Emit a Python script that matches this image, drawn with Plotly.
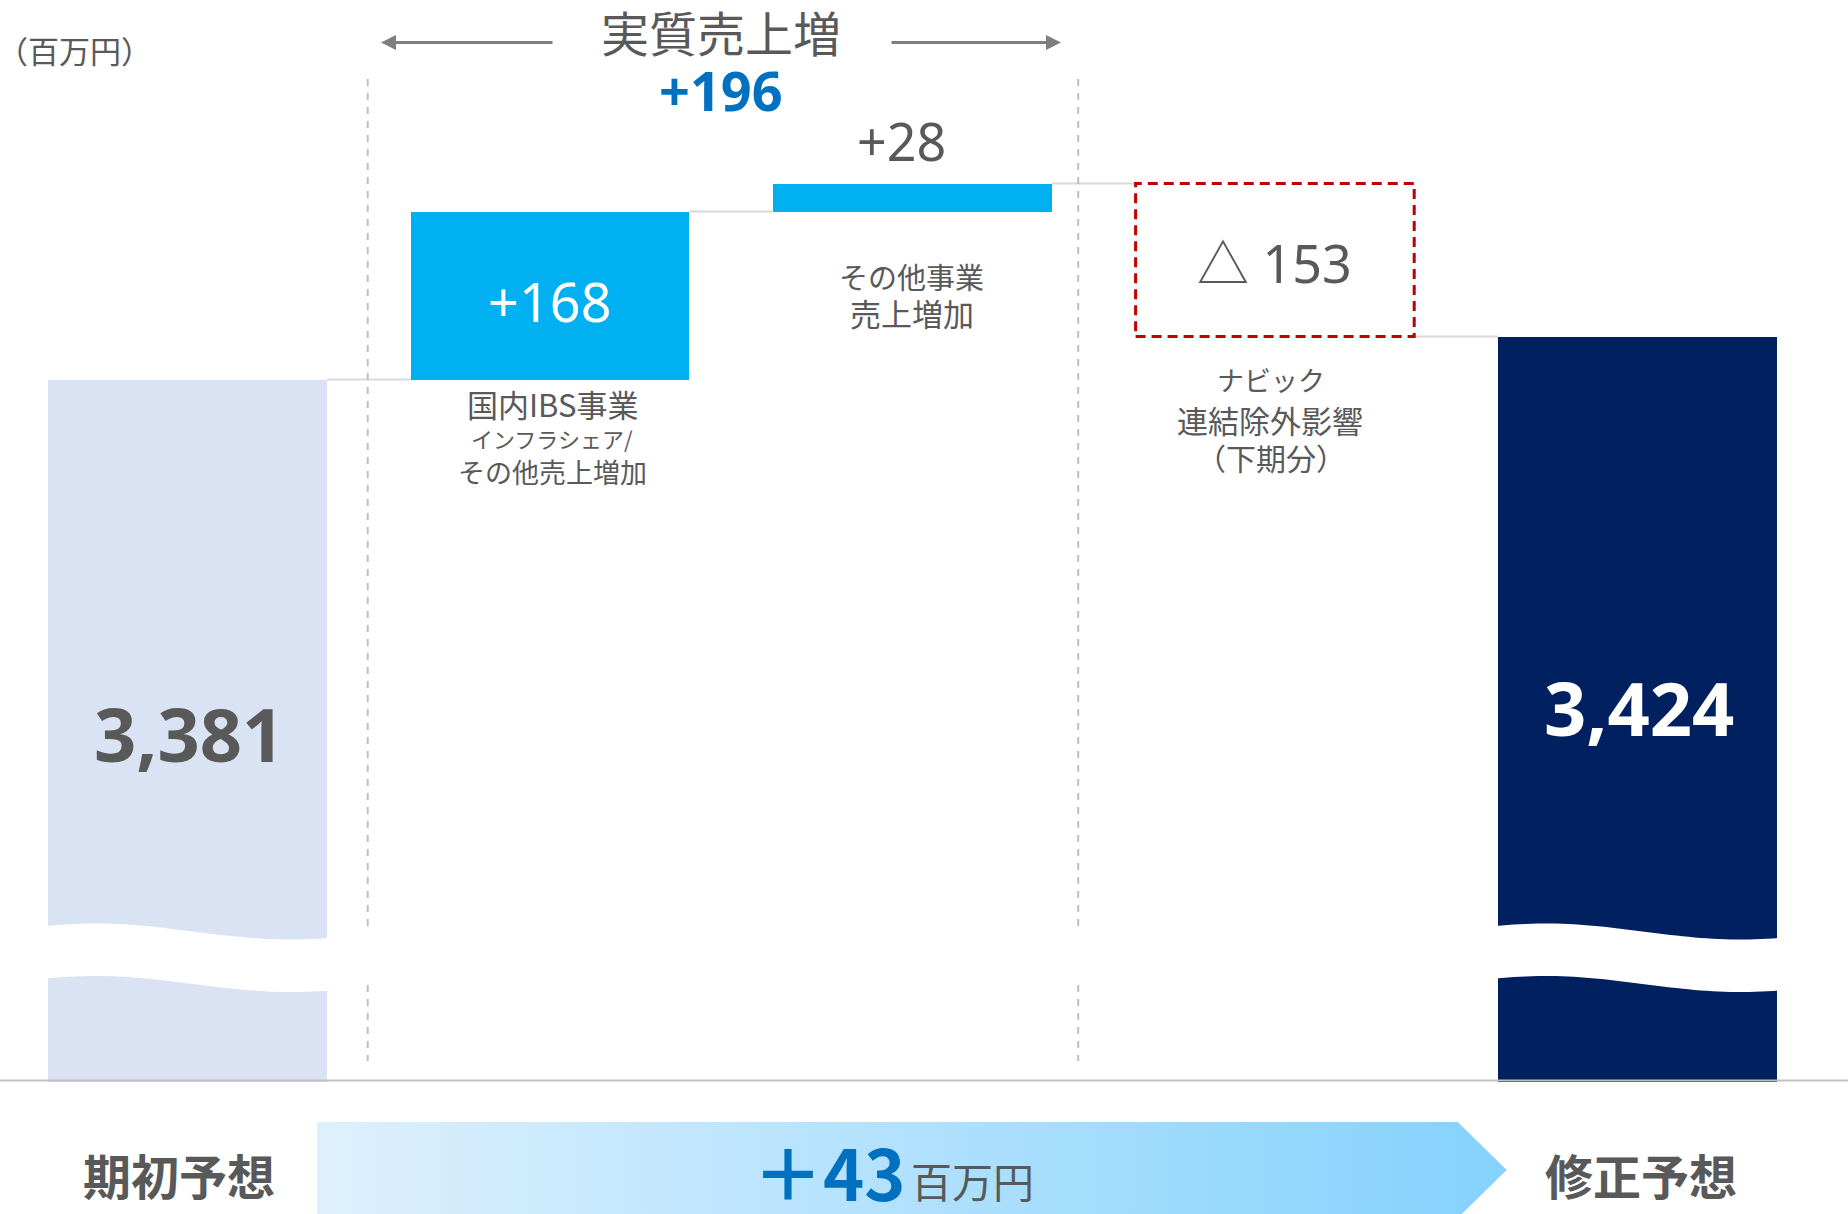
import numpy as np
import plotly.graph_objects as go

# ---------------- data ----------------
categories = ["期初予想", "国内IBS事業", "その他事業", "ナビック連結除外影響", "修正予想"]
measures = ["total", "relative", "relative", "relative", "total"]
values = [3381, 168, 28, -153, 3424]
unit_label = "（百万円）"
bracket_title = "実質売上増"
bottom_unit = "百万円"
label_lines = {
    1: [("国内IBS事業", 31), ("インフラシェア/", 22), ("その他売上増加", 27)],
    2: [("その他事業", 29), ("売上増加", 31)],
    3: [("ナビック", 27), ("連結除外影響", 31), ("（下期分）", 30)],
}

# ---------------- geometry helpers (layout only) ----------------
W_PX, H_PX = 1848, 1214
X0_PX, DX_PX = 187.7, 362.4          # pixel centre of category 0, spacing
Y_TOP_VAL = 3760.5                   # value at top edge (1 px per unit)
BAR_W = 278.6 / DX_PX
AXIS_FLOOR = 2680                    # broken-axis floor (baseline)

def fx(px):
    return (px - X0_PX) / DX_PX

def fy(py):
    return Y_TOP_VAL - py

def P(px, py):
    return px / W_PX, 1 - py / H_PX

TXT = "#595959"
BLUE = "#0070C0"
FONT = "Noto Sans, Noto Sans CJK JP, sans-serif"
CJK = "Noto Sans CJK JP, Noto Sans, sans-serif"

# ---------------- waterfall levels ----------------
xs = list(range(len(values)))
bottoms, tops, levels = [], [], []
level = 0
for m, v in zip(measures, values):
    if m == "total":
        b, t = AXIS_FLOOR - 1, v
        level = v
    else:
        new = level + v
        b, t = min(level, new), max(level, new)
        level = new
    bottoms.append(b)
    tops.append(t)
    levels.append(level)

colors = ["#DAE3F3", "#00B0F0", "#00B0F0", "rgba(0,0,0,0)", "#002060"]

fig = go.Figure()

# gradient banner (net change)
bx = [fx(317), fx(1457.7), fx(1506.7), fx(1457.7), fx(317), fx(317)]
by = [fy(1122), fy(1122), fy(1170), fy(1218), fy(1218), fy(1122)]
fig.add_trace(go.Scatter(
    x=bx, y=by, mode="lines", fill="toself", line=dict(width=0),
    fillgradient=dict(type="horizontal", colorscale=[[0, "#DEF0FD"], [1, "#84D2FD"]]),
    hoverinfo="skip", showlegend=False))

fig.add_trace(go.Bar(
    x=xs, y=[t - b for t, b in zip(tops, bottoms)], base=bottoms,
    width=BAR_W, marker=dict(color=colors, line=dict(width=0)),
    hoverinfo="skip", showlegend=False))

shapes = []
# connectors
for i in range(len(values) - 1):
    shapes.append(dict(type="line", xref="x", yref="y",
                       x0=i + BAR_W / 2, x1=i + 1 - BAR_W / 2,
                       y0=levels[i], y1=levels[i],
                       line=dict(color="#D9D9D9", width=2)))
# dashed negative box
neg = [i for i, v in enumerate(values) if v < 0 and measures[i] == "relative"]
for i in neg:
    shapes.append(dict(type="rect", xref="x", yref="y",
                       x0=i - BAR_W / 2, x1=i + BAR_W / 2,
                       y0=bottoms[i], y1=tops[i],
                       line=dict(color="#C00000", width=3, dash="10px,6px"),
                       fillcolor="rgba(0,0,0,0)"))

# wavy axis-break gaps on total bars
def wave_path(c):
    t = np.linspace(-0.03, 1.03, 50)
    xx = c - BAR_W / 2 + t * BAR_W
    top = 2829 + 8 * np.cos(np.pi * (t - 0.17) / 0.70)
    bot = top - 52.5
    pts = [f"{a:.4f},{b:.2f}" for a, b in zip(xx, top)]
    pts += [f"{a:.4f},{b:.2f}" for a, b in zip(xx[::-1], bot[::-1])]
    return "M " + " L ".join(pts) + " Z"

for i, m in enumerate(measures):
    if m == "total":
        shapes.append(dict(type="path", xref="x", yref="y", path=wave_path(i),
                           fillcolor="white", line=dict(width=0)))

# vertical dashed bracket lines
for vx in (367.7, 1078.2):
    for y0, y1 in ((79, 930), (985, 1061)):
        shapes.append(dict(type="line", xref="x", yref="y",
                           x0=fx(vx), x1=fx(vx), y0=fy(y0), y1=fy(y1),
                           line=dict(color="#BFBFBF", width=2, dash="7px,7px")))
# baseline
shapes.append(dict(type="line", xref="paper", yref="y", x0=0, x1=1,
                   y0=AXIS_FLOOR, y1=AXIS_FLOOR,
                   line=dict(color="#BFBFBF", width=2)))

ann = []
def add_text(px, py, text, size, color=TXT, family=FONT, bold=False, xanchor="center"):
    x, y = P(px, py)
    ann.append(dict(xref="paper", yref="paper", x=x, y=y, text=f"<b>{text}</b>" if bold else text,
                    showarrow=False, xanchor=xanchor, yanchor="middle",
                    font=dict(size=size, color=color, family=family)))

add_text(74, 49.5, unit_label, 31, family=CJK)
add_text(721, 31, bracket_title, 48, family=CJK)
add_text(721, 90, f"+{values[1] + values[2]}", 54, color=BLUE, bold=True)

# arrows of the bracket
for tip, tail in ((381, 554), (1061, 890)):
    x, y = P(tip, 42.5)
    ann.append(dict(xref="paper", yref="paper", x=x, y=y, ax=tail - tip, ay=0,
                    text="", showarrow=True, arrowhead=2, arrowsize=1,
                    arrowwidth=3, arrowcolor="#7F7F7F", standoff=0))

# value labels
for i, (m, v) in enumerate(zip(measures, values)):
    if m == "total":
        continue
    if v > 0 and v >= 100:
        ann.append(dict(xref="x", yref="y", x=i, y=(tops[i] + bottoms[i]) / 2, yshift=-5,
                        text=f"+{v}", showarrow=False,
                        font=dict(size=54, color="white", family=FONT)))
    elif v > 0:
        ann.append(dict(xref="x", yref="y", x=i, y=tops[i], yshift=43, xshift=-11,
                        text=f"+{v}", showarrow=False,
                        font=dict(size=52, color=TXT, family=FONT)))
    else:
        ann.append(dict(xref="x", yref="y", x=i, y=(tops[i] + bottoms[i]) / 2, yshift=-2,
                        text=f"△ {abs(v)}", showarrow=False,
                        font=dict(size=52, color=TXT, family=FONT)))

add_text(188.6, 733, f"{values[0]:,}", 74, bold=True)
add_text(1639, 707, f"{values[4]:,}", 74, color="white", bold=True)

# category description labels
label_pos = {1: [(552.7, 403), (551.6, 438.4), (552, 471.5)],
             2: [(911, 276), (912, 313)],
             3: [(1270.5, 379.5), (1270, 419.6), (1270.5, 457)]}
for i, lines in label_lines.items():
    for (txt, sz), (px, py) in zip(lines, label_pos[i]):
        add_text(px, py, txt, sz, family=CJK)

# bottom labels
add_text(179, 1174, categories[0], 48, family=CJK, bold=True)
add_text(1641, 1174, categories[4], 48, family=CJK, bold=True)
net = values[4] - values[0]
add_text(908, 1170, f"＋{net}", 70, color=BLUE, family=CJK, bold=True, xanchor="right")
add_text(909, 1180, bottom_unit, 41, family=CJK, xanchor="left")

fig.update_layout(
    width=W_PX, height=H_PX, margin=dict(l=0, r=0, t=0, b=0),
    paper_bgcolor="white", plot_bgcolor="white",
    xaxis=dict(range=[fx(0), fx(W_PX)], visible=False, fixedrange=True),
    yaxis=dict(range=[fy(H_PX), fy(0)], visible=False, fixedrange=True),
    shapes=shapes, annotations=ann, showlegend=False, bargap=0,
    font=dict(family=FONT, color=TXT),
)

fig.write_html("out.html")
